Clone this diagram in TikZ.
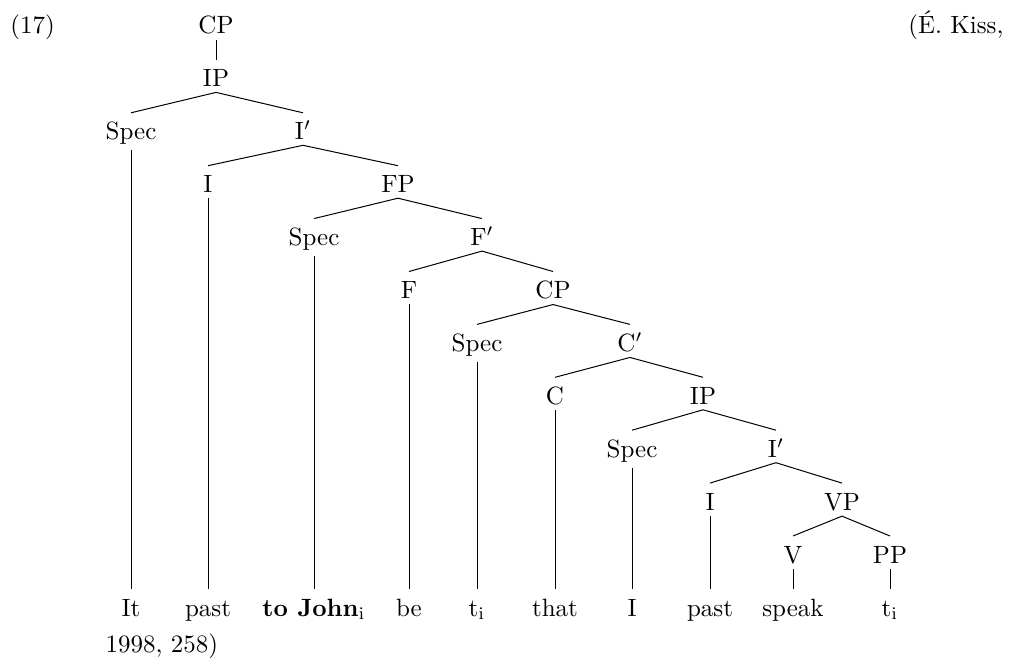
\documentclass[tikz,border=0pt]{standalone}
\begin{document}
\begin{tikzpicture}[x=0.4pt,y=-0.4pt,
  lbl/.style={anchor=base,inner sep=0pt},
  branch/.style={line width=0.4pt}]
\useasboundingbox (0,0) rectangle (1011,658);
% rows: baseline y = 34 + 52.9 k
\node[lbl] (cp0) at (216,34) {CP};
\node[lbl] (ip0) at (216,86.9) {IP};
\node[lbl] (spec1) at (131,139.8) {Spec};
\node[lbl] (ib1) at (303,139.8) {I$'$};
\node[lbl] (i1) at (208,192.7) {I};
\node[lbl] (fp) at (398,192.7) {FP};
\node[lbl] (spec2) at (314,245.6) {Spec};
\node[lbl] (fb) at (482,245.6) {F$'$};
\node[lbl] (f) at (409,298.5) {F};
\node[lbl] (cp1) at (553,298.5) {CP};
\node[lbl] (spec3) at (477,351.4) {Spec};
\node[lbl] (cb) at (630,351.4) {C$'$};
\node[lbl] (c) at (555,404.3) {C};
\node[lbl] (ip1) at (703,404.3) {IP};
\node[lbl] (spec4) at (632,457.2) {Spec};
\node[lbl] (ib2) at (776,457.2) {I$'$};
\node[lbl] (i2) at (710,510.1) {I};
\node[lbl] (vp) at (842,510.1) {VP};
\node[lbl] (v) at (793,563) {V};
\node[lbl] (pp) at (890,563) {PP};
% leaves
\node[lbl] (w1) at (131,616) {It};
\node[lbl] (w2) at (208,616) {past};
\node[lbl] (w3) at (314,616) {\textbf{to John}$_{\rm i}$};
\node[lbl] (w4) at (409,616) {be};
\node[lbl] (w5) at (477,616) {t$_{\rm i}$};
\node[lbl] (w6) at (555,616) {that};
\node[lbl] (w7) at (632,616) {I};
\node[lbl] (w8) at (710,616) {past};
\node[lbl] (w9) at (793,616) {speak};
\node[lbl] (w10) at (890,616) {t$_{\rm i}$};
% side texts
\node[lbl,anchor=base west] (num) at (10,34) {(17)};
\node[lbl,anchor=base east] (src1) at (1004,34) {(\'E. Kiss,};
\node[lbl,anchor=base west] (src2) at (105,652) {1998, 258)};
% branches
\foreach \p/\c in {cp0/ip0, ip0/spec1, ip0/ib1, ib1/i1, ib1/fp, fp/spec2, fp/fb,
  fb/f, fb/cp1, cp1/spec3, cp1/cb, cb/c, cb/ip1, ip1/spec4, ip1/ib2,
  ib2/i2, ib2/vp, vp/v, vp/pp,
  spec1/w1, i1/w2, spec2/w3, f/w4, spec3/w5, c/w6, spec4/w7, i2/w8, v/w9, pp/w10}
  \draw[branch] ([yshift=-2pt]\p.south) -- ([yshift=10.8pt]\c.base);
\end{tikzpicture}
\end{document}
